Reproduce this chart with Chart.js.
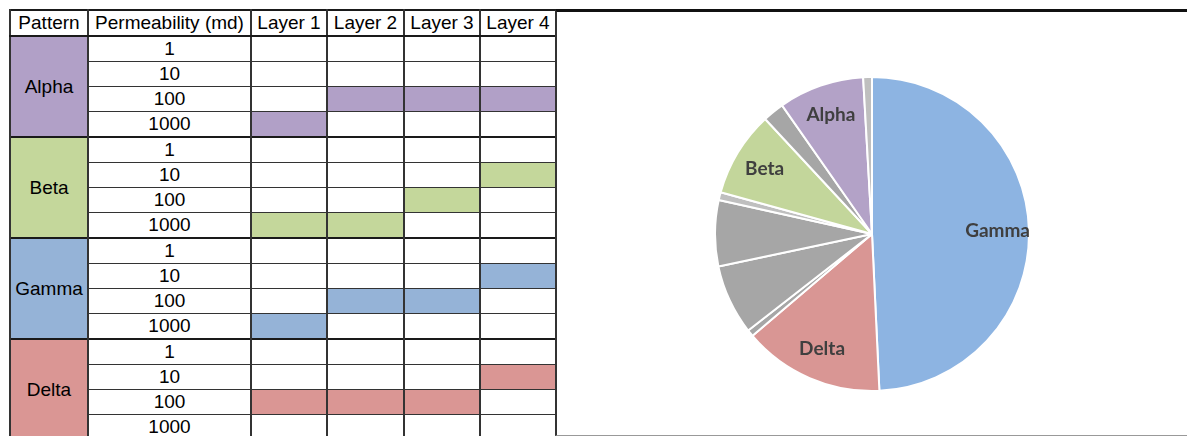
<!DOCTYPE html>
<html>
<head>
<meta charset="utf-8">
<script src="https://cdn.jsdelivr.net/npm/chart.js"></script>
<style>
  body { margin: 0; background: #fff; width: 1187px; height: 436px; overflow: hidden; position: relative; }
  #grid { position: absolute; left: 9px; top: 9px; border-collapse: collapse; table-layout: fixed;
          font-family: "Liberation Sans", Arial, sans-serif; font-size: 19px; color: #000; border: 2px solid #1a1a1a; }
  #grid td, #grid th { padding: 0; text-align: center; font-weight: normal; line-height: 18px;
          border-left: 2px solid #333; border-right: 2px solid #333; border-top: 1px solid #333; border-bottom: 1px solid #333; }
  #grid th { height: 24px; border-bottom: 2px solid #1a1a1a; }
  #grid td { height: 24px; }
  #grid tr.first td { border-top: 2px solid #1a1a1a; }
  #panel { position: absolute; left: 555px; top: 9px; width: 640px; height: 423px; border-top: 3px solid #111;
           border-left: 2px solid #333; border-bottom: 1px solid #999; background: #fff; }
  #pieBox { position: absolute; left: 714px; top: 76px; width: 316px; height: 316px; }
</style>
</head>
<body>
<table id="grid"></table>
<div id="panel"></div>
<div id="pieBox"><canvas id="pieChart"></canvas></div>
<script>
// table data
var headers = ["Pattern", "Permeability (md)", "Layer 1", "Layer 2", "Layer 3", "Layer 4"];
var patterns = ["Alpha", "Beta", "Gamma", "Delta"];
var permeabilities = [1, 10, 100, 1000];
// permeability used in each layer, per pattern
var alphaLayers = [1000, 100, 100, 100];
var betaLayers = [1000, 1000, 100, 10];
var gammaLayers = [1000, 100, 100, 10];
var deltaLayers = [100, 100, 100, 10];
var patternColors = ["#b1a0c7", "#c4d79b", "#95b3d7", "#da9694"];

// pie data (percent of total, clockwise from 12 o'clock)
var pieLabels = ["Gamma", "Delta", "", "", "", "", "Beta", "", "Alpha", ""];
var pieValues = [49.2, 14.5, 0.7, 7.2, 6.8, 0.8, 8.8, 2.2, 8.8, 0.9];
var pieColors = ["#8db4e2", "#d99694", "#a6a6a6", "#a6a6a6", "#a6a6a6", "#bfbfbf",
                 "#c3d69b", "#a6a6a6", "#b3a2c7", "#bfbfbf"];

var colWidths = [78, 163, 76, 77, 76, 76];
var layerSets = [alphaLayers, betaLayers, gammaLayers, deltaLayers];

// build the table
var grid = document.getElementById("grid");
var html = "<colgroup>";
colWidths.forEach(function (w) { html += '<col style="width:' + w + 'px">'; });
html += "</colgroup><tr>";
headers.forEach(function (h) { html += "<th>" + h + "</th>"; });
html += "</tr>";
patterns.forEach(function (p, pi) {
  permeabilities.forEach(function (k, ki) {
    html += ki === 0 ? '<tr class="first">' : "<tr>";
    if (ki === 0) {
      html += '<td rowspan="4" style="background:' + patternColors[pi] + '">' + p + "</td>";
    }
    html += "<td>" + k + "</td>";
    layerSets[pi].forEach(function (v) {
      var bg = v === k ? patternColors[pi] : "#fff";
      html += '<td style="background:' + bg + '"></td>';
    });
    html += "</tr>";
  });
});
grid.innerHTML = html;

// labels inside the slices
var sliceLabels = {
  id: "sliceLabels",
  afterDatasetsDraw: function (chart) {
    var ctx = chart.ctx;
    var meta = chart.getDatasetMeta(0);
    ctx.save();
    ctx.font = "bold 19px Lato";
    ctx.fillStyle = "#3f3f3f";
    ctx.textAlign = "center";
    ctx.textBaseline = "middle";
    meta.data.forEach(function (arc, i) {
      if (!pieLabels[i]) return;
      var p = arc.getProps(["x", "y", "startAngle", "endAngle", "outerRadius"], true);
      var mid = (p.startAngle + p.endAngle) / 2;
      var r = p.outerRadius * 0.8;
      ctx.fillText(pieLabels[i], p.x + Math.cos(mid) * r, p.y + Math.sin(mid) * r);
    });
    ctx.restore();
  }
};

var ctx1 = document.getElementById("pieChart").getContext("2d");
var pieChart = new Chart(ctx1, {
  type: "pie",
  data: {
    labels: pieLabels,
    datasets: [
      {
        data: pieValues,
        backgroundColor: pieColors,
        borderColor: "#fff",
        borderWidth: 2,
      },
    ],
  },
  options: {
    responsive: true,
    maintainAspectRatio: false,
    animation: false,
    plugins: {
      legend: { display: false },
      tooltip: { enabled: false },
    },
  },
  plugins: [sliceLabels],
});
</script>
</body>
</html>
